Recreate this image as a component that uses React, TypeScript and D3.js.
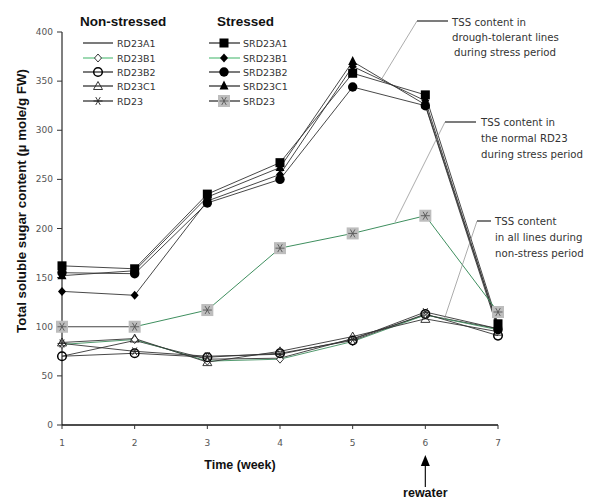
import React from "react";
import * as d3 from "d3";

const weeks = [1, 2, 3, 4, 5, 6, 7];
const yTicks = [0, 50, 100, 150, 200, 250, 300, 350, 400];

// Non-stressed series
const RD23A1 = [70, 86, 67, 68, 88, 112, 98];
const RD23B1 = [82, 87, 65, 67, 85, 112, 97];
const RD23B2 = [70, 73, 69, 73, 86, 113, 91];
const RD23C1 = [84, 88, 64, 75, 90, 108, 95];
const RD23 = [83, 75, 70, 72, 87, 115, 98];

// Stressed series
const SRD23A1 = [162, 159, 235, 267, 358, 336, 103];
const SRD23B1 = [136, 132, 228, 255, 365, 330, 100];
const SRD23B2 = [155, 154, 226, 250, 344, 325, 97];
const SRD23C1 = [152, 157, 232, 262, 370, 326, 100];
const SRD23 = [100, 100, 117, 180, 195, 213, 115];

type Mk = "none" | "diamondO" | "circleO" | "triangleO" | "star" | "square" | "diamond" | "circle" | "triangle" | "starBox";

const nonStressed = [
  { name: "RD23A1", values: RD23A1, marker: "none" as Mk, color: "#333" },
  { name: "RD23B1", values: RD23B1, marker: "diamondO" as Mk, color: "#3f8f5f" },
  { name: "RD23B2", values: RD23B2, marker: "circleO" as Mk, color: "#333" },
  { name: "RD23C1", values: RD23C1, marker: "triangleO" as Mk, color: "#333" },
  { name: "RD23", values: RD23, marker: "star" as Mk, color: "#333" },
];
const stressed = [
  { name: "SRD23A1", values: SRD23A1, marker: "square" as Mk, color: "#333" },
  { name: "SRD23B1", values: SRD23B1, marker: "diamond" as Mk, color: "#333" },
  { name: "SRD23B2", values: SRD23B2, marker: "circle" as Mk, color: "#333" },
  { name: "SRD23C1", values: SRD23C1, marker: "triangle" as Mk, color: "#333" },
  { name: "SRD23", values: SRD23, marker: "starBox" as Mk, color: "#3f8f5f" },
];
const legendLineColors = ["#222", "#5cbf7f", "#222", "#222", "#222"];

function Marker({ type, x, y }: { type: Mk; x: number; y: number }) {
  const star = (s: number, c: string) => (
    <g stroke={c} strokeWidth={0.9}>
      <line x1={x - s} y1={y} x2={x + s} y2={y} />
      <line x1={x - s * 0.5} y1={y - s * 0.87} x2={x + s * 0.5} y2={y + s * 0.87} />
      <line x1={x - s * 0.5} y1={y + s * 0.87} x2={x + s * 0.5} y2={y - s * 0.87} />
    </g>
  );
  switch (type) {
    case "none":
      return null;
    case "diamondO":
      return <path d={`M${x},${y - 4}L${x + 3.5},${y}L${x},${y + 4}L${x - 3.5},${y}Z`} fill="white" stroke="#222" strokeWidth={0.9} />;
    case "circleO":
      return <circle cx={x} cy={y} r={4.3} fill="none" stroke="#000" strokeWidth={1.5} />;
    case "triangleO":
      return <path d={`M${x},${y - 4.5}L${x + 4.5},${y + 3.5}L${x - 4.5},${y + 3.5}Z`} fill="none" stroke="#222" strokeWidth={0.9} />;
    case "star":
      return star(4.5, "#222");
    case "square":
      return <rect x={x - 4.5} y={y - 4.5} width={9} height={9} fill="#000" />;
    case "diamond":
      return <path d={`M${x},${y - 4.5}L${x + 4},${y}L${x},${y + 4.5}L${x - 4},${y}Z`} fill="#000" />;
    case "circle":
      return <circle cx={x} cy={y} r={4.7} fill="#000" />;
    case "triangle":
      return <path d={`M${x},${y - 5.5}L${x + 4.5},${y + 3.5}L${x - 4.5},${y + 3.5}Z`} fill="#000" />;
    case "starBox":
      return (
        <g>
          <rect x={x - 6} y={y - 6} width={12} height={12} fill="#bdbdbd" />
          {star(4.5, "#555")}
        </g>
      );
  }
  return null;
}

export default function App() {
  const x = d3.scaleLinear().domain([1, 7]).range([62, 498]);
  const y = d3.scaleLinear().domain([0, 400]).range([425, 32]);
  const line = d3
    .line<number>()
    .x((_, i) => x(weeks[i]))
    .y((d) => y(d));

  const font = "'DejaVu Sans', sans-serif";
  const boldFont = "'Liberation Sans', Arial, sans-serif";

  const drawSeries = (s: { name: string; values: number[]; marker: Mk; color: string }) => {
    if (s.name === "SRD23") {
      return (
        <g key={s.name}>
          <path d={line(s.values.slice(0, 2))!} fill="none" stroke="#444" strokeWidth={1} />
          <path
            d={d3.line<number>().x((_, i) => x(weeks[i + 1])).y((d) => y(d))(s.values.slice(1))!}
            fill="none"
            stroke={s.color}
            strokeWidth={1}
          />
        </g>
      );
    }
    return <path key={s.name} d={line(s.values)!} fill="none" stroke={s.color} strokeWidth={0.9} />;
  };

  const legendRows = [43, 58, 72, 86, 101];

  return (
    <div style={{ position: "absolute", left: 0, top: 0 }}>
      <svg width={603} height={499} style={{ display: "block", background: "white" }}>
        {/* axes */}
        <line x1={x(1)} y1={y(0)} x2={x(1)} y2={y(400)} stroke="#555" strokeWidth={1.5} />
        <line x1={x(1)} y1={y(0)} x2={x(7)} y2={y(0)} stroke="#111" strokeWidth={1.5} />
        {yTicks.map((t) => (
          <g key={t}>
            <line x1={x(1) - 5} x2={x(1)} y1={y(t)} y2={y(t)} stroke="#333" strokeWidth={1} />
            <text x={x(1) - 9} y={y(t) + 3} textAnchor="end" fontFamily={font} fontSize={9} fill="#555">
              {t}
            </text>
          </g>
        ))}
        {weeks.map((w) => (
          <g key={w}>
            <line x1={x(w)} x2={x(w)} y1={y(0)} y2={y(0) + 4} stroke="#333" strokeWidth={1} />
            <text x={x(w)} y={y(0) + 21} textAnchor="middle" fontFamily={font} fontSize={9} fill="#555">
              {w}
            </text>
          </g>
        ))}
        <text x={240} y={469} textAnchor="middle" fontFamily={boldFont} fontWeight="bold" fontSize={12.5} fill="#111">
          Time (week)
        </text>
        <text
          transform="translate(26,201) rotate(-90)"
          textAnchor="middle"
          fontFamily={boldFont}
          fontWeight="bold"
          fontSize={13.3}
          fill="#111"
        >
          Total soluble sugar content (µ mole/g FW)
        </text>

        {/* lines */}
        {nonStressed.map(drawSeries)}
        {stressed.map(drawSeries)}
        {/* markers */}
        {[...nonStressed, ...stressed].map((s) =>
          s.values.map((v, i) => <Marker key={s.name + i} type={s.marker} x={x(weeks[i])} y={y(v)} />)
        )}

        {/* legend */}
        <text x={80} y={26} fontFamily={boldFont} fontWeight="bold" fontSize={13.5} fill="#111">
          Non-stressed
        </text>
        <text x={217} y={26} fontFamily={boldFont} fontWeight="bold" fontSize={13.5} fill="#111">
          Stressed
        </text>
        {nonStressed.map((s, i) => (
          <g key={"ln" + s.name}>
            <line x1={83} x2={113} y1={legendRows[i]} y2={legendRows[i]} stroke={legendLineColors[i]} strokeWidth={1.2} />
            <Marker type={s.marker} x={98} y={legendRows[i]} />
            <text x={117} y={legendRows[i] + 3.5} fontFamily={font} fontSize={9.5} fill="#333">
              {s.name}
            </text>
          </g>
        ))}
        {stressed.map((s, i) => (
          <g key={"ls" + s.name}>
            <line x1={209} x2={240} y1={legendRows[i]} y2={legendRows[i]} stroke={legendLineColors[i]} strokeWidth={1.2} />
            <Marker type={s.marker} x={224} y={legendRows[i]} />
            <text x={243} y={legendRows[i] + 3.5} fontFamily={font} fontSize={9.5} fill="#333">
              {s.name}
            </text>
          </g>
        ))}

        {/* annotations */}
        <g fontFamily={font} fontSize={10.2} fill="#333">
          <line x1={417} y1={21} x2={448} y2={21} stroke="#111" strokeWidth={1.1} />
          <line x1={417} y1={21} x2={381} y2={80} stroke="#888" strokeWidth={0.7} />
          <text x={452} y={26}>TSS content in</text>
          <text x={452} y={41}>drough-tolerant lines</text>
          <text x={454} y={56}>during stress period</text>

          <line x1={445} y1={122} x2={476} y2={122} stroke="#111" strokeWidth={1.1} />
          <line x1={445} y1={122} x2={395} y2={222} stroke="#888" strokeWidth={0.7} />
          <text x={481} y={126}>TSS content in</text>
          <text x={481} y={142}>the normal RD23</text>
          <text x={481} y={158}>during stress period</text>

          <line x1={477} y1={221} x2={491} y2={221} stroke="#111" strokeWidth={1.1} />
          <line x1={477} y1={221} x2={444} y2={320} stroke="#888" strokeWidth={0.7} />
          <text x={495} y={225}>TSS content</text>
          <text x={495} y={241}>in all lines during</text>
          <text x={495} y={257}>non-stress period</text>
        </g>

        {/* rewater arrow */}
        <line x1={x(6)} x2={x(6)} y1={465} y2={487} stroke="#111" strokeWidth={1.2} />
        <path d={`M${x(6)},455L${x(6) + 4.5},466L${x(6) - 4.5},466Z`} fill="#000" />
        <text x={x(6)} y={497} textAnchor="middle" fontFamily={boldFont} fontWeight="bold" fontSize={12.5} fill="#111">
          rewater
        </text>
      </svg>
    </div>
  );
}
